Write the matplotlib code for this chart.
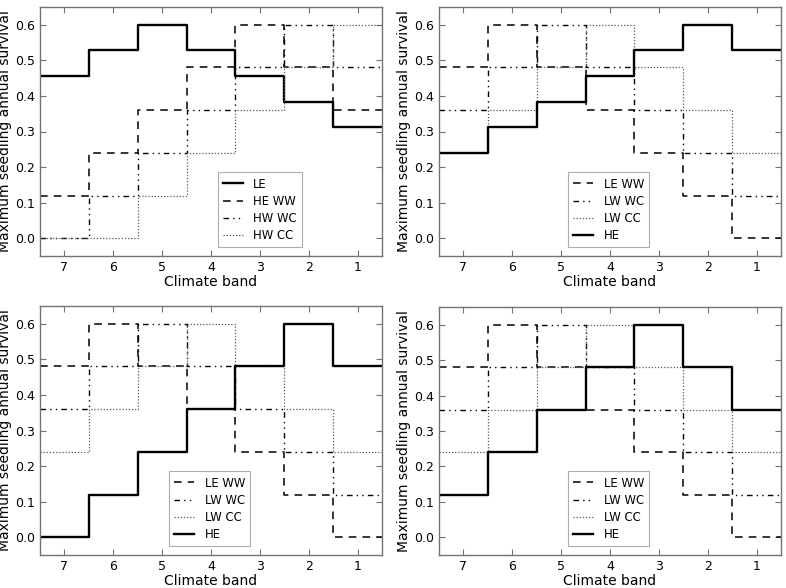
import numpy as np
import matplotlib
matplotlib.use('Agg')
import matplotlib.pyplot as plt

bands = [7, 6, 5, 4, 3, 2, 1]

# panel 1 series
le_p1 = [0.456, 0.528, 0.6, 0.528, 0.456, 0.384, 0.312]
he_ww_p1 = [0.12, 0.24, 0.36, 0.48, 0.6, 0.48, 0.36]
hw_wc_p1 = [0.0, 0.12, 0.24, 0.36, 0.48, 0.6, 0.48]
hw_cc_p1 = [0.0, 0.0, 0.12, 0.24, 0.36, 0.48, 0.6]

# shared series of panels 2-4
le_ww = [0.48, 0.6, 0.48, 0.36, 0.24, 0.12, 0.0]
lw_wc = [0.36, 0.48, 0.6, 0.48, 0.36, 0.24, 0.12]
lw_cc = [0.24, 0.36, 0.48, 0.6, 0.48, 0.36, 0.24]

he_p2 = [0.24, 0.312, 0.384, 0.456, 0.528, 0.6, 0.528]
he_p3 = [0.0, 0.12, 0.24, 0.36, 0.48, 0.6, 0.48]
he_p4 = [0.12, 0.24, 0.36, 0.48, 0.6, 0.48, 0.36]

yticks = [0.0, 0.1, 0.2, 0.3, 0.4, 0.5, 0.6]

styles = {
    'solid': dict(color='k', lw=1.7, ls='-'),
    'dash': dict(color='k', lw=1.1, ls=(0, (5, 4))),
    'dashdot': dict(color='k', lw=1.0, ls=(0, (4, 3, 1, 3, 1, 3))),
    'dot': dict(color='0.35', lw=0.9, ls=(0, (1, 1.5))),
}

edges = np.array(bands + [bands[-1] - 1]) + 0.5


def stepline(ax, vals, style, label):
    ys = list(vals) + [vals[-1]]
    ax.step(edges, ys, where='post', label=label, **styles[style])


panels = [
    ([(le_p1, 'solid', 'LE'), (he_ww_p1, 'dash', 'HE WW'),
      (hw_wc_p1, 'dashdot', 'HW WC'), (hw_cc_p1, 'dot', 'HW CC')], 0.643),
    ([(le_ww, 'dash', 'LE WW'), (lw_wc, 'dashdot', 'LW WC'),
      (lw_cc, 'dot', 'LW CC'), (he_p2, 'solid', 'HE')], 0.496),
    ([(le_ww, 'dash', 'LE WW'), (lw_wc, 'dashdot', 'LW WC'),
      (lw_cc, 'dot', 'LW CC'), (he_p3, 'solid', 'HE')], 0.496),
    ([(le_ww, 'dash', 'LE WW'), (lw_wc, 'dashdot', 'LW WC'),
      (lw_cc, 'dot', 'LW CC'), (he_p4, 'solid', 'HE')], 0.496),
]

# axes rectangles in pixels (left, top, right, bottom)
W, H = 786, 588
rects = [(40, 7, 382, 256), (439, 7, 781, 256),
         (40, 306, 382, 555), (439, 307, 781, 555)]

fig = plt.figure(figsize=(W / 100, H / 100), dpi=100)
fig.patch.set_facecolor('white')

for (series, lx), (l, t, r, b) in zip(panels, rects):
    ax = fig.add_axes([l / W, 1 - b / H, (r - l) / W, (b - t) / H])
    for vals, st, lab in series:
        stepline(ax, vals, st, lab)
    ax.set_xlim(7.5, 0.5)
    ax.set_ylim(-0.05, 0.65)
    ax.set_xticks(bands)
    ax.set_yticks(yticks)
    ax.set_yticklabels(['%.1f' % v for v in yticks])
    ax.tick_params(direction='in', top=True, right=True, length=4,
                   color='0.45', labelsize=9, pad=3.5)
    for sp in ax.spines.values():
        sp.set_color('0.45')
        sp.set_linewidth(1.0)
    ax.set_xlabel('Climate band', fontsize=10, labelpad=1)
    ax.set_ylabel('Maximum seedling annual survival', fontsize=10, labelpad=2)
    leg = ax.legend(loc='lower center', bbox_to_anchor=(lx, 0.036),
                    borderaxespad=0, fontsize=8.4, fancybox=False,
                    handlelength=1.7, labelspacing=0.35, borderpad=0.45,
                    handletextpad=0.9)
    leg.get_frame().set_edgecolor('0.6')
    leg.get_frame().set_linewidth(0.8)

fig.savefig('out.png', dpi=100, facecolor='white')
